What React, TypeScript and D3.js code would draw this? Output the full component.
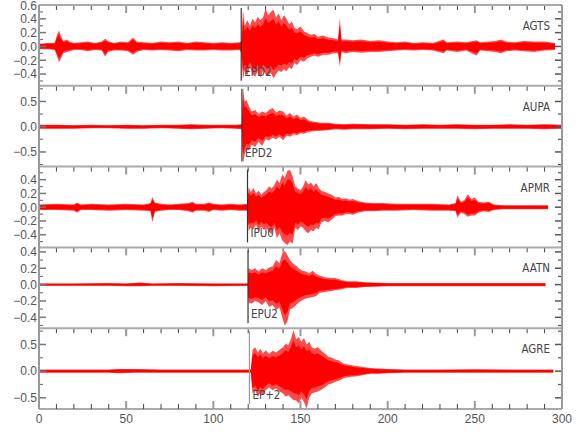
import React from 'react';
import * as d3 from 'd3';

// station names, phase picks (seconds) and pick labels
const stations = ['AGTS', 'AUPA', 'APMR', 'AATN', 'AGRE'];
const pickTimes = [116.0, 116.4, 119.6, 119.9, 120.7];
const pickLabels = ['EPD2', 'EPD2', 'IPU0', 'EPU2', 'EP+2'];

// amplitude range of each panel
const yDomains = [
  [-0.57, 0.6],
  [-0.79, 0.81],
  [-0.584, 0.59],
  [-0.533, 0.455],
  [-0.71, 0.805],
];
const yMajor = [
  [-0.4, -0.2, 0, 0.2, 0.4, 0.6],
  [-0.5, 0, 0.5],
  [-0.4, -0.2, 0, 0.2, 0.4],
  [-0.4, -0.2, 0, 0.2, 0.4],
  [-0.5, 0, 0.5],
];
const yMinor = [
  [-0.5, -0.3, -0.1, 0.1, 0.3, 0.5],
  [-0.75, -0.25, 0.25, 0.75],
  [-0.5, -0.3, -0.1, 0.1, 0.3, 0.5],
  [-0.5, -0.3, -0.1, 0.1, 0.3],
  [-0.25, 0.25, 0.75],
];
const xMajor = [0, 50, 100, 150, 200, 250, 300];
const xMinor = [10, 20, 30, 40, 60, 70, 80, 90, 110, 120, 130, 140, 160, 170, 180, 190,
  210, 220, 230, 240, 260, 270, 280, 290];

// trace envelopes: [time, upper peak, lower peak]
const agts = [
  [0, .04, -.04], [5, .05, -.04], [9, .05, -.05], [10.5, .18, -.15], [11.5, .23, -.23], [12.5, .15, -.18],
  [14, .08, -.1], [16, .1, -.08], [17.5, .07, -.07], [20, .05, -.05], [24, .06, -.05], [28, .07, -.07],
  [32, .05, -.05], [36, .07, -.06], [38, .11, -.15], [39.5, .08, -.08], [43, .05, -.06], [47, .07, -.06],
  [51, .06, -.07], [54, .13, -.12], [56, .07, -.08], [60, .06, -.05], [65, .05, -.06], [70, .07, -.05],
  [75, .06, -.06], [80, .07, -.07], [85, .05, -.05], [90, .07, -.06], [95, .06, -.06], [100, .05, -.05],
  [105, .06, -.06], [110, .05, -.06], [115, .06, -.05], [116.2, .08, -.1], [117, .53, -.48], [118, .3, -.35],
  [119.5, .38, -.42], [121, .3, -.3], [122.5, .4, -.4], [124, .35, -.44], [125.5, .43, -.36], [127, .38, -.45],
  [128.5, .42, -.35], [130, .55, -.4], [131.5, .45, -.42], [133, .5, -.38], [134.5, .53, -.46], [136, .42, -.4],
  [137.5, .48, -.35], [139, .38, -.37], [140.5, .45, -.33], [142, .4, -.36], [143.5, .32, -.3], [145, .36, -.33],
  [146.5, .27, -.24], [148, .25, -.27], [150, .29, -.2], [152, .22, -.22], [154, .19, -.17], [156, .17, -.15],
  [158, .18, -.13], [160, .14, -.15], [163, .16, -.12], [166, .13, -.12], [169, .12, -.1], [171.5, .1, -.1],
  [172.6, .41, -.29], [173.5, .1, -.08], [176, .1, -.1], [180, .09, -.08], [185, .1, -.09], [190, .08, -.08],
  [195, .09, -.08], [200, .07, -.07], [205, .06, -.06], [210, .07, -.05], [215, .05, -.06], [220, .06, -.05],
  [226, .05, -.06], [232, .1, -.1], [234, .06, -.06], [240, .07, -.08], [245, .06, -.06], [251, .09, -.13],
  [253, .06, -.06], [258, .07, -.07], [262, .08, -.08], [265, .1, -.1], [268, .07, -.07], [273, .06, -.06],
  [278, .08, -.07], [284, .07, -.08], [290, .07, -.06], [296, .05, -.05],
];
const aupa = [
  [0, .04, -.04], [10, .04, -.04], [20, .03, -.04], [30, .04, -.03], [40, .03, -.03], [50, .04, -.04],
  [60, .03, -.04], [70, .04, -.03], [80, .04, -.04], [87, .05, -.05], [95, .04, -.04], [105, .04, -.03],
  [113, .04, -.04], [116.4, .05, -.05], [117, .77, -.73], [118, .5, -.55], [119, .53, -.45], [120.5, .4, -.47],
  [122, .3, -.35], [124, .33, -.4], [126, .25, -.3], [128, .3, -.38], [130, .27, -.25], [132, .33, -.27],
  [134, .37, -.22], [136, .28, -.25], [138, .32, -.2], [140, .3, -.27], [142, .22, -.18], [144, .27, -.2],
  [146, .2, -.15], [148, .24, -.17], [150, .17, -.13], [152, .2, -.14], [155, .12, -.1], [158, .1, -.09],
  [162, .08, -.08], [166, .08, -.07], [170, .06, -.05], [175, .05, -.06], [180, .06, -.05], [190, .05, -.05],
  [200, .05, -.04], [210, .04, -.05], [220, .05, -.04], [230, .04, -.04], [240, .05, -.04], [250, .04, -.05],
  [260, .04, -.04], [270, .05, -.04], [280, .04, -.04], [290, .05, -.05], [300, .04, -.04],
];
const apmr = [
  [0, .04, -.04], [10, .05, -.04], [20, .04, -.05], [21.8, .07, -.08], [24, .04, -.04], [30, .05, -.04],
  [40, .04, -.05], [50, .05, -.04], [60, .04, -.05], [64, .06, -.06], [65, .15, -.22], [66.5, .07, -.07],
  [70, .05, -.05], [75, .04, -.04], [80, .05, -.04], [86, .06, -.06], [88, .08, -.08], [90, .05, -.05],
  [95, .05, -.05], [97.5, .07, -.07], [100, .05, -.04], [105, .04, -.05], [110, .05, -.04], [115, .04, -.05],
  [119.6, .05, -.05], [120.2, .29, -.34], [121.5, .22, -.3], [123, .28, -.32], [124.5, .2, -.25], [126, .24, -.35],
  [127.5, .18, -.28], [129, .22, -.33], [130.5, .25, -.3], [132, .3, -.36], [133.5, .27, -.39], [135, .32, -.3],
  [136.5, .4, -.45], [138, .35, -.38], [139.5, .48, -.48], [141, .42, -.52], [142.5, .53, -.55], [144, .54, -.5],
  [145.5, .45, -.53], [147, .3, -.3], [148.5, .27, -.33], [150, .25, -.28], [151.5, .3, -.3], [153, .39, -.35],
  [154.5, .33, -.38], [156, .36, -.33], [157.5, .3, -.35], [159, .35, -.3], [160.5, .28, -.32], [162, .24, -.22],
  [164, .22, -.2], [166, .2, -.22], [168, .18, -.18], [170, .14, -.13], [172, .15, -.12], [174, .12, -.12],
  [176, .13, -.1], [178, .11, -.1], [180, .12, -.11], [183, .09, -.08], [187, .07, -.06], [192, .06, -.06],
  [197, .06, -.05], [205, .05, -.05], [215, .05, -.04], [225, .05, -.05], [235, .04, -.05], [239, .06, -.06],
  [240, .17, -.15], [242, .08, -.08], [244, .1, -.1], [246, .19, -.14], [248, .12, -.12], [250, .14, -.12],
  [252, .08, -.08], [255, .07, -.06], [258, .08, -.07], [261, .04, -.04], [266, .03, -.03], [272, .03, -.03],
  [278, .03, -.03], [285, .03, -.03], [292, .03, -.03],
];
const aatn = [
  [0, .015, -.015], [20, .015, -.015], [40, .02, -.015], [50, .015, -.02], [58, .025, -.02], [65, .015, -.015],
  [80, .02, -.015], [100, .015, -.02], [119.8, .015, -.015], [120.2, .2, -.22], [122, .18, -.23], [124, .2, -.2],
  [126, .16, -.22], [128, .2, -.25], [130, .18, -.2], [132, .21, -.27], [134, .22, -.25], [136, .3, -.31],
  [138, .26, -.28], [139.5, .38, -.4], [141, .41, -.5], [142.5, .36, -.45], [144, .3, -.3], [145.5, .26, -.29],
  [147, .24, -.26], [149, .2, -.22], [151, .17, -.19], [153, .16, -.17], [155, .14, -.16], [157, .17, -.15],
  [159, .13, -.14], [161, .11, -.1], [164, .09, -.09], [167, .08, -.08], [170, .08, -.07], [173, .06, -.06],
  [177, .04, -.04], [182, .04, -.04], [187, .03, -.03], [192, .025, -.025], [200, .02, -.02], [220, .02, -.02],
  [240, .02, -.02], [260, .02, -.02], [280, .02, -.02], [290.5, .02, -.02],
];
const agre = [
  [0, .03, -.03], [20, .03, -.03], [40, .03, -.03], [45, .04, -.04], [55, .04, -.03], [70, .03, -.03],
  [90, .03, -.03], [110, .03, -.03], [121.5, .03, -.03], [122.5, .4, -.42], [124, .45, -.36], [125.5, .35, -.48],
  [127, .42, -.4], [128.5, .33, -.45], [130, .39, -.36], [132, .32, -.3], [134, .38, -.36], [136, .35, -.32],
  [138, .4, -.38], [140, .45, -.42], [141.5, .52, -.48], [143, .48, -.45], [144.5, .6, -.5], [146, .77, -.54],
  [147.5, .6, -.55], [149, .64, -.6], [150.5, .55, -.5], [152, .62, -.58], [153.5, .5, -.7], [155, .55, -.5],
  [156.5, .45, -.42], [158, .42, -.4], [160, .45, -.38], [162, .38, -.35], [164, .33, -.3], [166, .27, -.25],
  [168, .25, -.23], [170, .22, -.2], [172, .2, -.18], [175, .14, -.13], [178, .12, -.11], [181, .1, -.1],
  [185, .08, -.08], [190, .06, -.05], [195, .05, -.05], [200, .04, -.04], [210, .03, -.03], [230, .03, -.03],
  [250, .035, -.03], [270, .03, -.03], [295, .03, -.03],
];
const traces = [agts, aupa, apmr, aatn, agre];

const W = 580;
const H = 440;
const plotTop = 5;
const plotBottom = 409;
const panelH = (plotBottom - plotTop) / stations.length;
const narrow = "'Liberation Sans Narrow', 'DejaVu Sans Condensed', 'Liberation Sans', sans-serif";
const numFont = "'Liberation Sans', Arial, sans-serif";
const fmt = (v: number) => (v < 0 ? '\u2212' : '') + Math.abs(v).toFixed(1);

const x = d3.scaleLinear().domain([0, 300]).range([39, 562]);

const Panel = ({ i }: { i: number }) => {
  const top = plotTop + i * panelH;
  const bottom = top + panelH;
  const y = d3.scaleLinear().domain(yDomains[i]).range([bottom, top]);
  const data = traces[i];
  const outer = d3.area<number[]>().x(d => x(d[0])).y0(d => y(d[2])).y1(d => y(d[1]));
  const inner = d3.area<number[]>().x(d => x(d[0])).y0(d => y(d[2] * 0.75)).y1(d => y(d[1] * 0.75));
  const px = x(pickTimes[i]);
  const [x0, x1] = x.range();
  return (
    <g>
      <path d={outer(data) || ''} fill="#ff4a4a" />
      <path d={inner(data) || ''} fill="#ff0000" />
      <line x1={px} x2={px} y1={top + 3} y2={bottom - 5} stroke={i === 4 ? '#999' : '#333'} strokeWidth={1.2} />
      <text x={px + 3} y={bottom - 10} fontFamily={narrow} fontSize={11.5} fill="#444">{pickLabels[i]}</text>
      <text x={550} y={top + 25} fontFamily={narrow} fontSize={11.5} fill="#444" textAnchor="end">{stations[i]}</text>
      {/* top x ticks */}
      {xMinor.map(t => (
        <line key={'m' + t} x1={x(t)} x2={x(t)} y1={top} y2={top + 5} stroke="#444" strokeWidth={1} />
      ))}
      {xMajor.map(t => (
        <line key={'M' + t} x1={x(t)} x2={x(t)} y1={top} y2={top + 8} stroke="#999" strokeWidth={2} />
      ))}
      {/* y ticks, both sides */}
      {yMinor[i].map(v => (
        <g key={'ym' + v}>
          <line x1={x0} x2={x0 + 4} y1={y(v)} y2={y(v)} stroke="#777" strokeWidth={1.2} />
          <line x1={x1 - 4} x2={x1} y1={y(v)} y2={y(v)} stroke="#555" strokeWidth={1.2} />
        </g>
      ))}
      {yMajor[i].map(v => (
        <g key={'yM' + v}>
          <line x1={x0} x2={x0 + 7} y1={y(v)} y2={y(v)} stroke="#777" strokeWidth={1.5} />
          <line x1={x1 - 7} x2={x1} y1={y(v)} y2={y(v)} stroke="#555" strokeWidth={1.5} />
          <text x={37} y={Math.max(y(v), 6)} dy="0.36em" textAnchor="end" fontFamily={numFont} fontSize={12} fill="#555">
            {fmt(v)}
          </text>
        </g>
      ))}
      <line x1={x0} x2={x1} y1={top} y2={top} stroke="#aaa" strokeWidth={2} />
    </g>
  );
};

export default function App() {
  const [x0, x1] = x.range();
  return (
    <svg width={W} height={H} style={{ position: 'absolute', left: 0, top: 0, background: '#fff' }}>
      {stations.map((s, i) => (
        <Panel key={s} i={i} />
      ))}
      <line x1={x0} x2={x0} y1={plotTop} y2={plotBottom} stroke="#999" strokeWidth={2} />
      <line x1={x1} x2={x1} y1={plotTop} y2={plotBottom} stroke="#999" strokeWidth={2} />
      <line x1={x0} x2={x1} y1={plotBottom} y2={plotBottom} stroke="#aaa" strokeWidth={2} />
      {xMinor.map(t => (
        <line key={'bm' + t} x1={x(t)} x2={x(t)} y1={plotBottom - 5} y2={plotBottom} stroke="#444" strokeWidth={1} />
      ))}
      {xMajor.map(t => (
        <g key={'bM' + t}>
          <line x1={x(t)} x2={x(t)} y1={plotBottom - 8} y2={plotBottom} stroke="#999" strokeWidth={2} />
          <text x={x(t)} y={423} textAnchor="middle" fontFamily={numFont} fontSize={12} fill="#555">{t}</text>
        </g>
      ))}
    </svg>
  );
}
